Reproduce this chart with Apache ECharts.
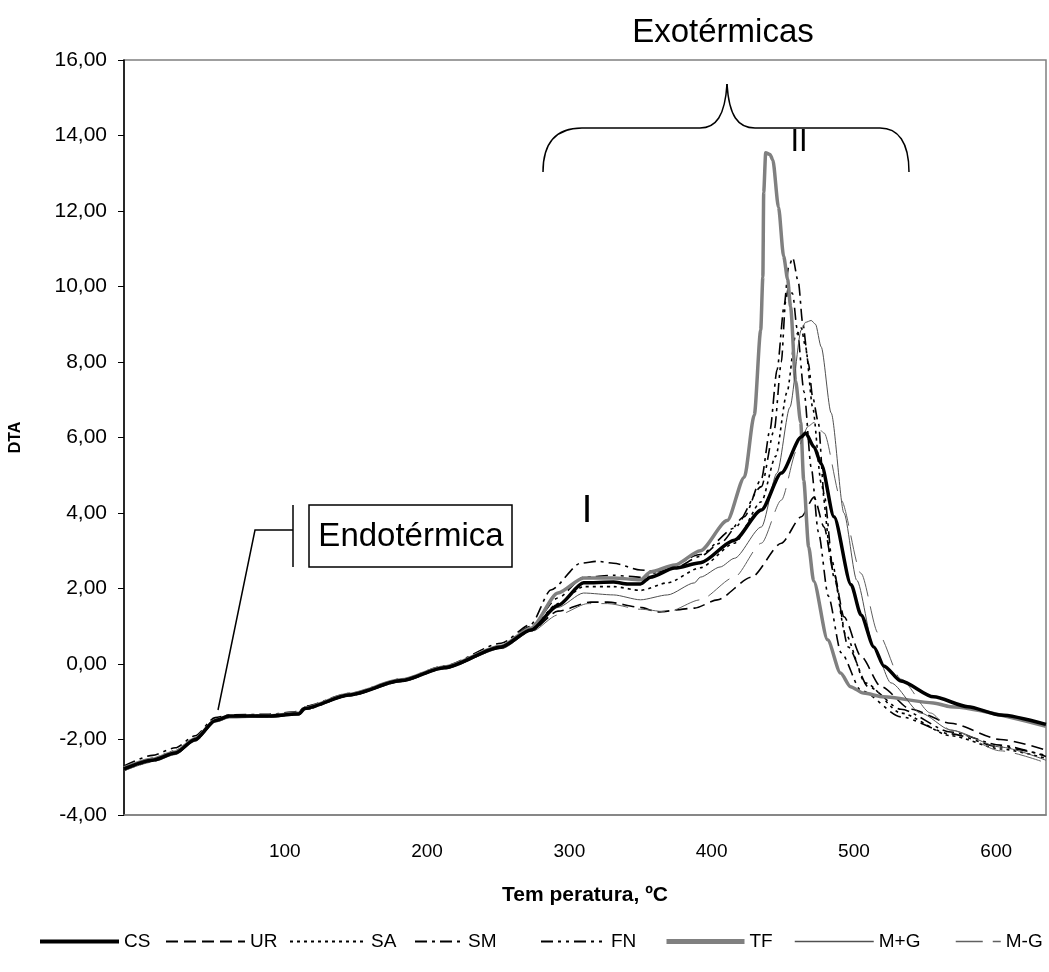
<!DOCTYPE html>
<html>
<head>
<meta charset="utf-8">
<script src="https://cdn.jsdelivr.net/npm/echarts@6/dist/echarts.min.js"></script>
<style>
html,body{margin:0;padding:0;background:#fff;}
#c{width:1049px;height:972px;}
</style>
</head>
<body>
<div id="c"></div>
<script>
// ---- data: [temperature ºC, DTA] ----
const xTickLabels = [100, 200, 300, 400, 500, 600];
const seriesNames = ['CS', 'UR', 'SA', 'SM', 'FN', 'TF', 'M+G', 'M-G'];

const CS = [[-13,-2.78],[7,-2.55],[23,-2.36],[37,-2.0],[51,-1.5],[61,-1.38],[89,-1.38],[110,-1.32],[114,-1.18],[145,-0.82],[182,-0.44],[212,-0.1],[252,0.45],[273,0.9],[292,1.55],[310,2.15],[331,2.17],[341,2.12],[350,2.12],[357,2.3],[374,2.54],[392,2.68],[416,3.28],[435,4.08],[449,5.06],[463,6.01],[466,6.12],[472,5.75],[477,5.3],[486,3.9],[498,2.1],[505,1.3],[514,0.45],[521,-0.05],[533,-0.45],[556,-0.87],[580,-1.13],[603,-1.35],[635,-1.6]];
const UR = [[-13,-2.8],[7,-2.56],[23,-2.38],[37,-2.03],[51,-1.53],[61,-1.41],[89,-1.4],[110,-1.34],[114,-1.2],[145,-0.84],[182,-0.46],[212,-0.12],[252,0.42],[273,0.88],[292,1.4],[315,1.64],[327,1.64],[350,1.5],[362,1.38],[388,1.48],[404,1.7],[428,2.3],[449,3.2],[463,3.9],[472,4.42],[479,3.63],[486,2.4],[493,1.25],[505,0.2],[519,-0.6],[540,-1.2],[568,-1.57],[603,-2.0],[635,-2.28]];
const SA = [[-13,-2.76],[7,-2.5],[23,-2.3],[37,-1.96],[51,-1.47],[61,-1.37],[89,-1.35],[110,-1.29],[114,-1.15],[145,-0.8],[182,-0.43],[212,-0.09],[252,0.46],[273,0.95],[292,1.6],[310,2.05],[331,2.05],[350,1.95],[369,2.15],[392,2.55],[416,3.2],[435,4.3],[445,5.5],[453,7.2],[459,8.7],[463,8.9],[466,8.4],[471,6.8],[477,4.8],[484,2.8],[494,0.8],[508,-0.5],[533,-1.3],[568,-1.9],[603,-2.25],[635,-2.5]];
const SM = [[-13,-2.7],[7,-2.42],[23,-2.22],[37,-1.9],[51,-1.42],[61,-1.35],[89,-1.33],[110,-1.26],[114,-1.12],[145,-0.78],[182,-0.4],[212,-0.05],[252,0.55],[273,1.05],[287,1.96],[308,2.67],[320,2.72],[331,2.67],[350,2.49],[362,2.44],[374,2.54],[392,2.85],[406,3.2],[423,3.9],[435,4.9],[441,6.2],[446,7.8],[451,9.5],[454,10.5],[457,10.76],[461,10.1],[464,9.03],[468,7.97],[471,7.07],[475,6.4],[479,4.5],[486,2.3],[496,0.45],[510,-0.6],[533,-1.2],[568,-1.8],[603,-2.15],[635,-2.45]];
const FN = [[-13,-2.82],[7,-2.58],[23,-2.38],[37,-2.02],[51,-1.52],[61,-1.4],[89,-1.4],[110,-1.33],[114,-1.2],[145,-0.84],[182,-0.45],[212,-0.1],[252,0.48],[273,1.0],[292,1.75],[310,2.3],[331,2.35],[350,2.3],[364,2.45],[392,2.9],[416,3.6],[435,4.7],[444,6.2],[449,8.0],[452,9.6],[454,10.0],[457,9.8],[460,8.9],[465,7.2],[470,5.2],[475,3.5],[482,1.8],[491,0.3],[505,-0.7],[533,-1.4],[568,-1.85],[603,-2.2],[635,-2.42]];
const TF = [[-13,-2.75],[7,-2.52],[23,-2.33],[37,-1.98],[51,-1.5],[61,-1.4],[89,-1.37],[110,-1.3],[114,-1.17],[145,-0.8],[182,-0.42],[212,-0.08],[252,0.47],[273,0.95],[292,1.88],[310,2.28],[331,2.28],[350,2.23],[357,2.44],[374,2.62],[392,3.0],[411,3.8],[423,4.95],[430,6.6],[434.5,8.85],[436,10.25],[436.6,12.5],[438,13.54],[441,13.5],[443,13.35],[447,12.1],[450.6,10.8],[453.4,10.2],[455.5,9.46],[459,7.5],[462.6,6.4],[464.7,4.87],[468.2,3.1],[471.7,2.2],[481.5,0.64],[490.6,-0.24],[497.6,-0.6],[506.7,-0.77],[520.8,-0.87],[555.8,-1.03],[567.7,-1.13],[635,-1.65]];
const MG_PLUS = [[-13,-2.77],[7,-2.53],[23,-2.34],[37,-1.99],[51,-1.49],[61,-1.39],[89,-1.37],[110,-1.31],[114,-1.17],[145,-0.81],[182,-0.43],[212,-0.09],[252,0.44],[273,0.9],[292,1.5],[310,1.88],[331,1.83],[350,1.7],[369,1.83],[388,2.15],[392,2.3],[406,2.57],[416,2.8],[435,3.63],[446,5.06],[455,6.8],[463,8.85],[466,9.05],[470,9.1],[473,9.0],[477,8.4],[484,6.65],[493,4.0],[502,2.22],[514,0.45],[526,-0.5],[547,-1.3],[568,-1.75],[603,-2.2],[635,-2.55]];
const MG_MINUS = [[-13,-2.83],[7,-2.6],[23,-2.4],[37,-2.05],[51,-1.55],[61,-1.42],[89,-1.41],[110,-1.35],[114,-1.21],[145,-0.85],[182,-0.47],[212,-0.12],[252,0.4],[273,0.85],[292,1.3],[313,1.6],[327,1.6],[350,1.45],[369,1.38],[392,1.7],[416,2.3],[435,3.2],[449,4.34],[460,5.67],[468,6.3],[472,6.4],[479,6.12],[491,4.34],[505,2.4],[517,0.82],[533,-0.4],[554,-1.3],[568,-1.75],[603,-2.3],[635,-2.62]];

const seriesData = [CS, UR, SA, SM, FN, TF, MG_PLUS, MG_MINUS];

// ---- styles ----
const styles = [
  {color:'#000000', width:3.5, type:'solid', legendWidth:4},
  {color:'#000000', width:1.6, type:[12,6], legendWidth:2},
  {color:'#000000', width:1.6, type:[3,4], legendWidth:2},
  {color:'#000000', width:1.6, type:[12,5,3,5], legendWidth:2},
  {color:'#000000', width:1.6, type:[12,5,3,5,3,5], legendWidth:2},
  {color:'#808080', width:3.5, type:'solid', legendWidth:5},
  {color:'#505050', width:1, type:'solid', legendWidth:1.5},
  {color:'#606060', width:1, type:[27,10], legendWidth:1.5}
];
// legend layout (line start, line length)
const legendLeft = [33, 160, 284, 409, 535, 659, 789, 950];
const legendLen = [79, 79, 76, 48, 65, 78, 79, 45];

const FONT = '"Liberation Sans", Arial, sans-serif';

const chart = echarts.init(document.getElementById('c'), null, {renderer:'canvas'});

const series = seriesNames.map((n, i) => ({
  name: n,
  type: 'line',
  data: seriesData[i],
  symbol: 'none',
  showSymbol: false,
  smooth: 0.25,
  smoothMonotone: 'x',
  lineStyle: {color: styles[i].color, width: styles[i].width, type: styles[i].type},
  itemStyle: {color: styles[i].color},
  z: i === 0 ? 5 : 3,
  animation: false
}));

const legends = seriesNames.map((n, i) => ({
  data: [n],
  left: legendLeft[i],
  top: 927,
  itemWidth: legendLen[i],
  itemHeight: 22,
  itemGap: 0,
  selectedMode: false,
  itemStyle: {opacity: 0},
  lineStyle: {width: styles[i].legendWidth, color: styles[i].color, type: styles[i].type},
  textStyle: {fontFamily: FONT, fontSize: 19, color: '#000'}
}));

const K = {stroke:'#000', lineWidth:1.5, fill:null};

chart.setOption({
  animation: false,
  backgroundColor: '#ffffff',
  grid: {left: 122, top: 60, right: 3, bottom: 157, show: true, borderColor: '#808080', borderWidth: 1.5, backgroundColor: 'transparent'},
  legend: legends,
  xAxis: {
    type: 'value', min: -13, max: 635,
    name: 'Tem peratura, ºC', nameLocation: 'middle', nameGap: 70,
    nameTextStyle: {fontFamily: FONT, fontWeight: 'bold', fontSize: 21, color: '#000'},
    axisLine: {show: true, onZero: false, lineStyle: {color: '#808080', width: 1.5}},
    axisTick: {show: false},
    splitLine: {show: false},
    axisLabel: {customValues: xTickLabels, fontFamily: FONT, fontSize: 19, color: '#000', margin: 27}
  },
  yAxis: {
    type: 'value', min: -4, max: 16, interval: 2,
    name: 'DTA', nameLocation: 'middle', nameGap: 100,
    nameTextStyle: {fontFamily: FONT, fontWeight: 'bold', fontSize: 16, color: '#000'},
    axisLine: {show: true, onZero: false, lineStyle: {color: '#000', width: 1.5}},
    axisTick: {show: true, length: 6, lineStyle: {color: '#000', width: 1}},
    splitLine: {show: false},
    axisLabel: {fontFamily: FONT, fontSize: 21, color: '#000', margin: 17,
      formatter: v => v.toFixed(2).replace('.', ',')}
  },
  series: series,
  graphic: [
    {type:'text', x:723, y:33, style:{text:'Exotérmicas', font:'33px ' + FONT, fill:'#000', textAlign:'center', textVerticalAlign:'middle'}},
    {type:'bezierCurve', shape:{x1:543, y1:172, cpx1:543, cpy1:142, cpx2:556, cpy2:128, x2:582, y2:128}, style:K},
    {type:'line', shape:{x1:582, y1:128, x2:700, y2:128}, style:K},
    {type:'bezierCurve', shape:{x1:700, y1:128, cpx1:716, cpy1:128, cpx2:725, cpy2:116, x2:727, y2:84}, style:K},
    {type:'bezierCurve', shape:{x1:727, y1:84, cpx1:729, cpy1:116, cpx2:738, cpy2:128, x2:755, y2:128}, style:K},
    {type:'line', shape:{x1:755, y1:128, x2:880, y2:128}, style:K},
    {type:'bezierCurve', shape:{x1:880, y1:128, cpx1:898, cpy1:128, cpx2:909, cpy2:142, x2:909, y2:172}, style:K},
    {type:'text', x:799, y:142, style:{text:'II', font:'31px ' + FONT, fill:'#000', textAlign:'center', textVerticalAlign:'middle'}},
    {type:'text', x:587, y:512, style:{text:'I', font:'38px ' + FONT, fill:'#000', textAlign:'center', textVerticalAlign:'middle'}},
    {type:'rect', shape:{x:309, y:505, width:203, height:62}, style:{stroke:'#000', lineWidth:1.5, fill:'#fff'}},
    {type:'text', x:411, y:537, style:{text:'Endotérmica', font:'33px ' + FONT, fill:'#000', textAlign:'center', textVerticalAlign:'middle'}},
    {type:'polyline', shape:{points:[[218,710],[255,530],[293,530]]}, style:K},
    {type:'line', shape:{x1:293, y1:505, x2:293, y2:567}, style:K}
  ]
});
</script>
</body>
</html>
